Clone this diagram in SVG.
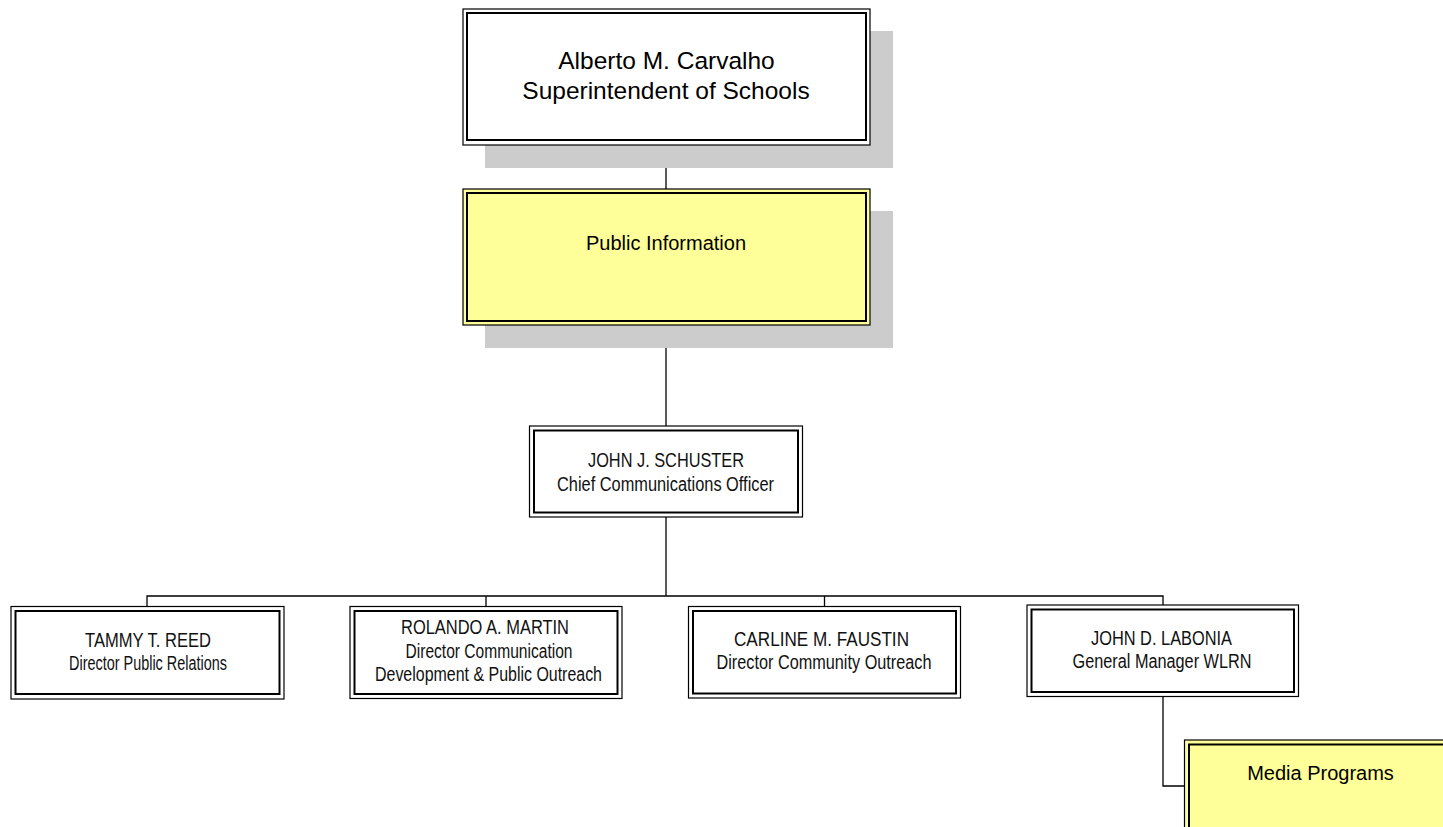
<svg xmlns="http://www.w3.org/2000/svg" width="1443" height="827" viewBox="0 0 1443 827">
<style>
.o{fill:none;stroke:#000;stroke-width:1.2}
.i{fill:none;stroke:#000;stroke-width:2}
.w{fill:#fff}
.y{fill:#ffff99}
.sh{fill:#cccccc}
.c{fill:none;stroke:#000;stroke-width:1.3}
.big{font-family:"Liberation Sans",Arial,sans-serif;font-size:24.5px;fill:#000;text-anchor:middle}
.mid{font-family:"Liberation Sans",Arial,sans-serif;font-size:20px;fill:#000;text-anchor:middle}
.n{font-family:"Liberation Sans Narrow","Arial Narrow","Liberation Sans",sans-serif;font-size:20px;fill:#111;text-anchor:middle}
</style>
<rect width="1443" height="827" fill="#fff"/>
<g id="connectors">
<path class="c" d="M666,145V189"/>
<path class="c" d="M666,325V426"/>
<path class="c" d="M666,517V596"/>
<path class="c" d="M147,606.5V596H1163V605"/>
<path class="c" d="M486,596V606.5"/>
<path class="c" d="M824.5,596V606.5"/>
<path class="c" d="M1163,697V786H1184.5"/>
</g>
<g id="superintendent">
<rect class="sh" x="485" y="31" width="408" height="137"/>
<rect class="w o" x="463" y="9" width="407" height="136"/>
<rect class="i" x="467" y="13" width="399" height="127"/>
<text class="big" x="666.5" y="68.5">Alberto M. Carvalho</text>
<text class="big" x="666" y="98.5">Superintendent of Schools</text>
</g>
<g id="public-information">
<rect class="sh" x="485" y="211" width="408" height="137"/>
<rect class="y o" x="463" y="189" width="407" height="136"/>
<rect class="i" x="467" y="193" width="399" height="128"/>
<text class="mid" x="666" y="250">Public Information</text>
</g>
<g id="schuster">
<rect class="w o" x="529.5" y="426" width="273" height="91"/>
<rect class="i" x="534" y="430.5" width="264" height="82"/>
<text class="n" x="666" y="467" textLength="156" lengthAdjust="spacingAndGlyphs">JOHN J. SCHUSTER</text>
<text class="n" x="665.5" y="490.5" textLength="217" lengthAdjust="spacingAndGlyphs">Chief Communications Officer</text>
</g>
<g id="reed">
<rect class="w o" x="11" y="606.5" width="273" height="92.5"/>
<rect class="i" x="15.5" y="611" width="264" height="83"/>
<text class="n" x="148" y="647" textLength="126" lengthAdjust="spacingAndGlyphs">TAMMY T. REED</text>
<text class="n" x="148" y="670" textLength="158" lengthAdjust="spacingAndGlyphs">Director Public Relations</text>
</g>
<g id="martin">
<rect class="w o" x="350" y="606.5" width="272" height="92"/>
<rect class="i" x="354.5" y="611" width="263" height="83"/>
<text class="n" x="485" y="634" textLength="168" lengthAdjust="spacingAndGlyphs">ROLANDO A. MARTIN</text>
<text class="n" x="489" y="657.5" textLength="167" lengthAdjust="spacingAndGlyphs">Director Communication</text>
<text class="n" x="488.5" y="681" textLength="227" lengthAdjust="spacingAndGlyphs">Development &amp; Public Outreach</text>
</g>
<g id="faustin">
<rect class="w o" x="688.5" y="606.5" width="272" height="91.5"/>
<rect class="i" x="693" y="611" width="263" height="82.5"/>
<text class="n" x="821.5" y="646" textLength="175" lengthAdjust="spacingAndGlyphs">CARLINE M. FAUSTIN</text>
<text class="n" x="824" y="669" textLength="215" lengthAdjust="spacingAndGlyphs">Director Community Outreach</text>
</g>
<g id="labonia">
<rect class="w o" x="1027" y="605" width="271.5" height="91.5"/>
<rect class="i" x="1031.5" y="609.5" width="262.5" height="82.5"/>
<text class="n" x="1161.5" y="645" textLength="141" lengthAdjust="spacingAndGlyphs">JOHN D. LABONIA</text>
<text class="n" x="1162" y="668" textLength="179" lengthAdjust="spacingAndGlyphs">General Manager WLRN</text>
</g>
<g id="media-programs">
<rect class="y o" x="1184.5" y="740" width="272" height="137"/>
<rect class="i" x="1189" y="744.5" width="263" height="128"/>
<text class="mid" x="1320.5" y="780">Media Programs</text>
</g>
</svg>
